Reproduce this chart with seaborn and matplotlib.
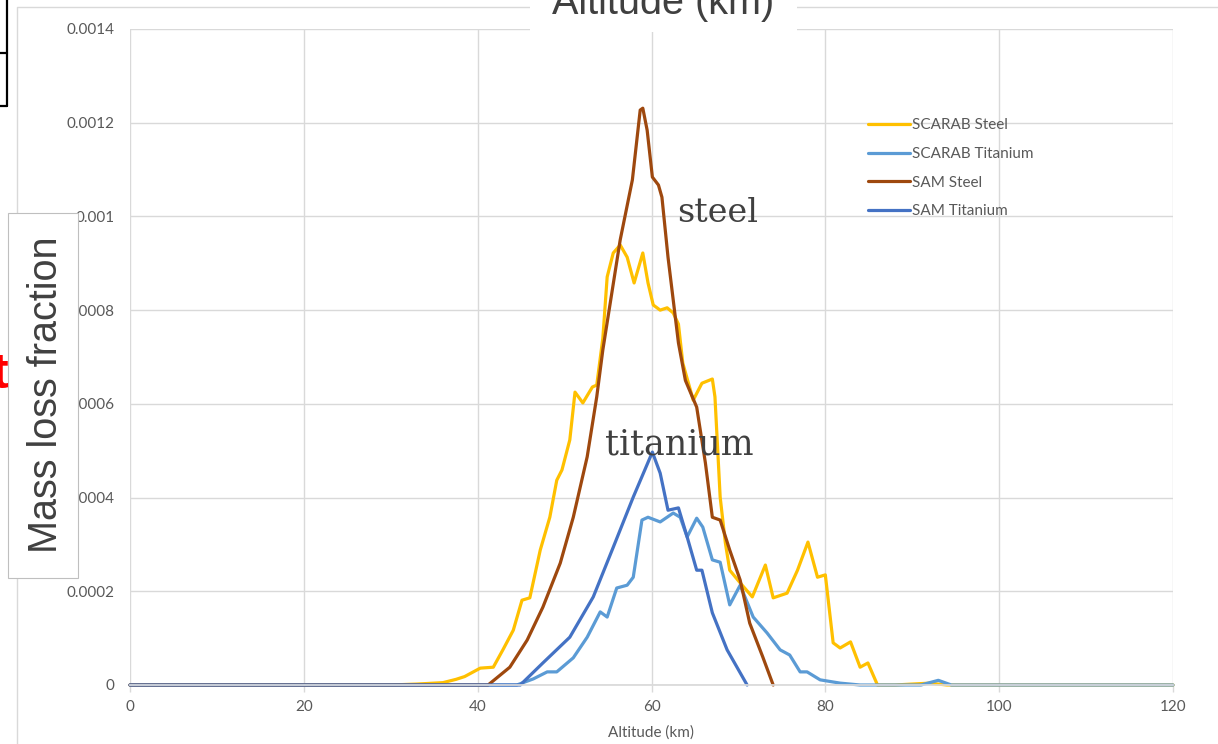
"""
mass_loss_altitude.py

SCARAB / SAM 质量损失分数随高度分布曲线（钢 vs 钛），复刻截图样式。
"""

import matplotlib
matplotlib.use("Agg")
import matplotlib.pyplot as plt
from matplotlib.patches import Rectangle
import seaborn as sns
import pandas as pd

# ── 数据 ────────────────────────────────────────────────
series_names = ["SCARAB Steel", "SCARAB Titanium", "SAM Steel", "SAM Titanium"]
series_colors = ["#FFC000", "#5B9BD5", "#9E480E", "#4472C4"]

scarab_steel_alt = [0, 30, 33, 36, 37.5, 38.5, 40.3, 41.8, 42.9, 44.1, 45.1, 46.0,
                    47.2, 48.3, 49.1, 49.7, 50.6, 51.2, 52.1, 53.2, 53.7, 54.4,
                    54.9, 55.6, 56.4, 57.2, 58.0, 59.0, 59.6, 60.2, 61.0, 61.8,
                    62.5, 63.1, 63.6, 64.8, 65.8, 67.0, 67.3, 67.9, 68.5, 69.0,
                    70.2, 71.6, 73.1, 74.0, 75.6, 76.8, 78.0, 79.1, 80.0, 80.9,
                    81.7, 82.9, 84.0, 84.9, 86.0, 88, 92, 94, 120]
scarab_steel_val = [0, 0, 2e-6, 5e-6, 1.2e-5, 1.8e-5, 3.6e-5, 3.8e-5, 7.5e-5, 1.17e-4,
                    1.81e-4, 1.86e-4, 2.88e-4, 3.58e-4, 4.37e-4, 4.59e-4, 5.23e-4,
                    6.25e-4, 6.02e-4, 6.36e-4, 6.40e-4, 7.4e-4, 8.71e-4, 9.22e-4,
                    9.39e-4, 9.13e-4, 8.58e-4, 9.22e-4, 8.58e-4, 8.11e-4, 8.0e-4,
                    8.05e-4, 7.94e-4, 7.7e-4, 6.87e-4, 6.08e-4, 6.44e-4, 6.53e-4,
                    6.15e-4, 4.01e-4, 3.03e-4, 2.45e-4, 2.18e-4, 1.88e-4, 2.56e-4,
                    1.86e-4, 1.96e-4, 2.45e-4, 3.05e-4, 2.30e-4, 2.35e-4, 9.0e-5,
                    7.9e-5, 9.2e-5, 3.8e-5, 4.7e-5, 0, 0, 4e-6, 0, 0]

scarab_ti_alt = [0, 44.5, 46.4, 48.0, 49.1, 51.0, 52.6, 54.1, 54.9, 56.0, 57.2, 57.9,
                 58.9, 59.6, 61.0, 62.5, 63.3, 64.1, 65.2, 65.9, 67.0, 67.9, 69.0,
                 70.2, 71.7, 73.3, 74.8, 75.9, 77.1, 77.9, 79.4, 81.7, 84, 91, 93,
                 94.5, 120]
scarab_ti_val = [0, 0, 1.3e-5, 2.8e-5, 2.8e-5, 5.8e-5, 1.02e-4, 1.56e-4, 1.45e-4,
                 2.07e-4, 2.13e-4, 2.30e-4, 3.52e-4, 3.58e-4, 3.48e-4, 3.67e-4,
                 3.58e-4, 3.16e-4, 3.56e-4, 3.37e-4, 2.67e-4, 2.62e-4, 1.71e-4,
                 2.13e-4, 1.45e-4, 1.11e-4, 7.5e-5, 6.4e-5, 2.8e-5, 2.8e-5, 1.1e-5,
                 4e-6, 0, 0, 1e-5, 0, 0]

sam_steel_alt = [0, 41.2, 43.7, 45.7, 47.5, 49.5, 51.0, 52.6, 53.7, 54.4, 56.4, 57.8,
                 58.7, 59.0, 59.5, 60.1, 60.8, 61.2, 61.9, 63.1, 63.9, 65.2, 66.2,
                 67.0, 67.9, 69.0, 70.2, 71.3, 72.8, 74.0]
sam_steel_val = [0, 0, 3.8e-5, 9.6e-5, 1.66e-4, 2.60e-4, 3.58e-4, 4.87e-4, 6.15e-4,
                 7.15e-4, 9.50e-4, 1.078e-3, 1.227e-3, 1.231e-3, 1.184e-3, 1.084e-3,
                 1.067e-3, 1.041e-3, 9.13e-4, 7.30e-4, 6.5e-4, 5.93e-4, 4.74e-4,
                 3.58e-4, 3.52e-4, 2.88e-4, 2.24e-4, 1.32e-4, 6.0e-5, 0]

sam_ti_alt = [0, 44.9, 47.5, 50.6, 53.3, 55.6, 57.9, 60.1, 61.0, 61.9, 63.1, 64.1,
              65.2, 65.8, 67.0, 68.7, 71.0]
sam_ti_val = [0, 0, 4.7e-5, 1.02e-4, 1.88e-4, 2.94e-4, 4.01e-4, 4.97e-4, 4.52e-4,
              3.73e-4, 3.78e-4, 3.16e-4, 2.45e-4, 2.45e-4, 1.54e-4, 7.5e-5, 0]

x_ticks = [0, 20, 40, 60, 80, 100, 120]
y_ticks = [0, 0.0002, 0.0004, 0.0006, 0.0008, 0.001, 0.0012, 0.0014]
y_tick_labels = ["0", "0.0002", "0.0004", "0.0006", "0.0008", "0.001", "0.0012", "0.0014"]

# ── 组装长表 ──────────────────────────────────────────────────
frames = []
for name, alt, val in zip(series_names,
                          [scarab_steel_alt, scarab_ti_alt, sam_steel_alt, sam_ti_alt],
                          [scarab_steel_val, scarab_ti_val, sam_steel_val, sam_ti_val]):
    frames.append(pd.DataFrame({"altitude": alt, "mass_loss": val, "series": name}))
df = pd.concat(frames, ignore_index=True)

# ── 绘图 ──────────────────────────────────────────────────────
sns.set_theme(style="white")
plt.rcParams["font.family"] = ["Lato", "DejaVu Sans"]

W, H = 1218, 744
fig = plt.figure(figsize=(W / 100, H / 100), dpi=100)
ax = fig.add_axes([130 / W, 1 - 685 / H, 1043 / W, 656 / H])

sns.lineplot(
    data=df, x="altitude", y="mass_loss", hue="series",
    hue_order=series_names, palette=series_colors,
    sort=False, estimator=None, linewidth=2.3, ax=ax,
)
for ln in ax.get_lines():
    ln.set_clip_on(False)

ax.set_xlim(0, 120)
ax.set_ylim(0, 0.0014)
ax.set_xticks(x_ticks)
ax.set_yticks(y_ticks)
ax.set_yticklabels(y_tick_labels)
ax.grid(True, color="#D9D9D9", linewidth=1.0)
ax.set_axisbelow(True)
for side in ["top", "right", "left"]:
    ax.spines[side].set_visible(False)
ax.spines["bottom"].set_color("#D9D9D9")
ax.tick_params(axis="x", length=5, width=1, color="#D9D9D9", pad=6,
               labelsize=11, labelcolor="#595959", bottom=True)
ax.tick_params(axis="y", length=0, pad=11, labelsize=11, labelcolor="#595959")
ax.set_xlabel("Altitude (km)", fontsize=11, color="#595959", labelpad=8)
ax.set_ylabel("")

ax.legend(loc="upper left", bbox_to_anchor=(0.708, 0.864), frameon=False,
          fontsize=11, handlelength=2.7, handletextpad=0.12, labelspacing=0.96,
          borderpad=0, borderaxespad=0, labelcolor="#595959")

ax.text(62.9, 0.000988, "steel", family="DejaVu Serif", fontsize=24,
        color="#404040", va="baseline", ha="left")
ax.text(54.7, 0.000491, "titanium", family="DejaVu Serif", fontsize=25,
        color="#404040", va="baseline", ha="left")

# ── 截图中叠加的元素（像素坐标） ─────────────────────────────
ov = fig.add_axes([0, 0, 1, 1], zorder=10)
ov.set_xlim(0, W)
ov.set_ylim(H, 0)
ov.axis("off")
ov.patch.set_alpha(0)

ov.plot([17, 17, W], [H, 7, 7], color="#D9D9D9", lw=1)
ov.plot([7, 7], [0, 106], color="black", lw=1.6)
ov.plot([0, 7], [53, 53], color="black", lw=1.6)
ov.plot([0, 7], [106, 106], color="black", lw=1.6)

ov.add_patch(Rectangle((530, -5), 267, 37, facecolor="white", edgecolor="none", zorder=3))
ov.text(663, 14, "Altitude (km)", family="Liberation Sans", fontsize=28.5,
        color="#404040", ha="center", va="baseline", zorder=4)

ov.add_patch(Rectangle((8, 213), 70, 365, facecolor="white", edgecolor="#BFBFBF",
                       lw=0.8, zorder=3))
ov.text(46, 395, "Mass loss fraction", family="Liberation Sans", fontsize=28.5,
        color="#404040", rotation=90, ha="center", va="center", zorder=4)

ov.text(-9, 388, "t", family="Liberation Sans", fontsize=36, fontweight="bold",
        color="red", ha="left", va="baseline", zorder=4)

fig.savefig("out.png", dpi=100)
